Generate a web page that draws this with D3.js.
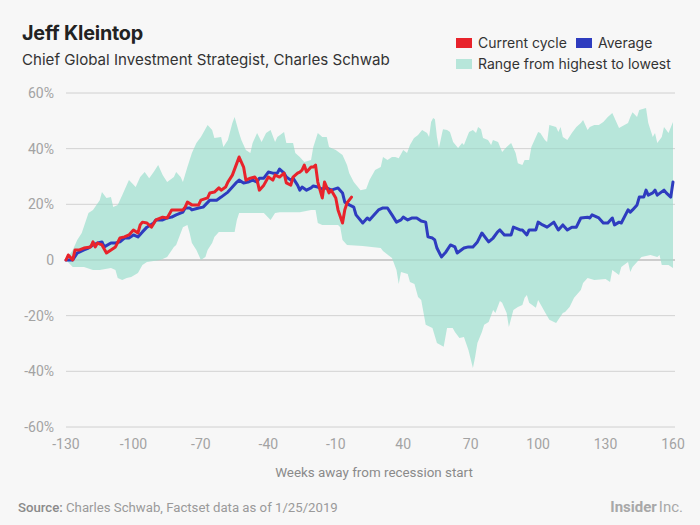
<!DOCTYPE html>
<html>
<head>
<meta charset="utf-8">
<script src="https://cdn.jsdelivr.net/npm/d3@7"></script>
<style>
  html, body { margin: 0; padding: 0; background: #f7f7f7; }
  svg { display: block; }
</style>
</head>
<body>
<svg id="chart" width="700" height="525"></svg>
<script>
// ---- Data (x = position along the axis, 0..270; tick every 30) ----
const xTickLabels = ["-130","-100","-70","-40","-10","40","70","100","130","160"];
const yTicks = [-60, -40, -20, 0, 20, 40, 60];

const avgX = [0,3,5,8,10,12,14,16,17,20,22,24,26,28,30,32,34,36,39,40,43,45,47,49,52,53,55,56,59,61,64,67,69,72,74,76,77,79,81,83,85,86,88,90,92,94,95,97,98,100,101,103,104,105,107,109,110,112,114,116,118,121,123,124,126,128,129,132,134,135,137,139,141,143,145,147,149,150,152,154,156,158,160,161,163,164,165,167,169,171,173,174,177,179,181,183,185,188,190,192,193,195,198,199,202,203,205,206,209,210,212,214,217,219,221,223,225,227,229,232,233,234,237,239,241,243,244,246,247,250,251,252,254,255,257,258,259,261,262,263,266,267,269,270];
const avgY = [0,0,2.5,3.6,4.3,5.4,6.1,6.5,4.7,6.1,6.1,6.5,7.9,7.9,9.0,8.3,10.1,11.8,13.3,14.4,14.4,15.1,15.4,16.2,17.2,18.7,18.7,18.0,18.7,19.0,21.5,21.5,22.6,24.4,26.2,28.0,28.7,27.7,28.0,28.7,28.0,29.4,29.4,31.6,31.2,31.2,32.7,31.2,29.8,28.7,29.4,26.9,25.1,26.2,25.1,25.9,26.6,26.2,25.5,25.9,25.1,25.9,24.1,20.8,19.8,19.0,16.2,13.3,15.1,14.4,16.2,18.0,18.7,18.7,16.2,13.6,14.4,15.4,14.4,15.1,15.1,14.0,13.6,8.3,7.9,7.2,4.3,1.1,2.9,5.4,4.7,2.5,4.3,4.7,4.7,6.5,9.7,6.5,7.9,10.1,10.8,9.0,9.0,11.8,10.8,10.8,9.0,10.8,10.8,13.6,12.6,11.8,13.6,10.8,12.6,10.8,11.8,11.8,15.1,15.4,15.1,16.2,15.1,13.3,13.3,15.1,12.6,13.6,13.3,18.0,17.2,18.0,19.8,22.6,22.6,25.1,23.3,24.1,25.1,23.3,25.1,24.1,22.6,28.0];

const curX = [0,1,3,4,6,8,11,12,13,14,16,18,20,22,24,26,28,30,32,33,34,36,38,40,43,45,47,49,52,53,54,56,59,60,63,64,66,68,69,71,72,74,76,77,79,80,82,84,85,86,88,90,92,93,95,97,98,100,101,103,104,105,106,107,109,110,111,112,114,115,117,118,120,121,123,124,125,127];
const curY = [0,1.8,0,3.6,3.6,4.3,4.7,6.5,4.7,6.1,5.4,2.5,3.6,4.7,7.9,8.3,9.0,10.8,9.7,12.6,13.6,13.3,11.8,14.4,15.4,15.1,18.0,18.0,18.0,19.0,20.8,19.8,19.8,21.5,22.3,24.1,24.4,25.9,25.1,26.2,28.0,30.5,34.8,37.0,33.4,28.7,29.4,29.8,28.7,25.1,26.9,29.8,28.7,30.5,29.8,31.2,27.7,26.9,29.8,31.2,31.6,32.3,34.1,31.6,33.4,33.4,34.1,28.0,22.3,28.0,24.1,25.1,22.3,18.0,13.3,18.0,20.5,22.6];

const highX = [0,3,5,7,10,12,15,16,18,20,21,23,25,28,31,33,35,37,39,41,43,45,48,49,51,52,54,56,58,60,63,65,66,69,70,72,74,75,77,78,80,82,83,85,87,89,91,93,94,97,98,101,102,104,106,109,110,112,114,116,117,120,123,125,126,128,131,133.5,135,137.5,140,141,143,145,146.5,148,150,151.7,153,154.8,156.6,158.4,160.6,161.5,162.4,163.3,164.1,165,165.9,167.3,167.7,169.5,170.8,172.2,174.4,176.2,177,178.4,179.3,181,182.4,183.3,184.6,185.5,187.7,189.1,189.9,192.2,194,196,198,200,201,203,204,206,207,210,211,213,214,215,218,219,220,221,223,225,227,229,230,232,233,235,237,239,241,243,245,246,250,251,252,254,255,258,259,261,262,263,265,266,268,270];
const highY = [0,3.6,7.2,9.7,16.9,18.0,21.5,24.4,22.3,22.6,19.0,19.8,23.3,28.7,26.2,29.8,31.6,29.4,31.6,34.1,30.5,28.0,29.8,31.6,29.8,28.0,33.4,38.4,42.0,44.2,48.5,46.7,43.8,44.2,40.6,43.1,49.2,51.4,45.6,43.1,39.5,38.4,42.0,45.6,42.4,45.6,46.7,42.4,44.2,46.0,42.0,42.0,38.4,37.0,35.2,35.9,40.6,45.6,44.2,44.2,40.6,39.5,37.7,34.1,31.2,28.0,25.1,25.5,28.7,32.3,33.4,37.0,35.9,37.0,37.0,36.6,39.5,38.4,41.3,43.8,44.9,46.7,45.6,44.2,49.6,51.0,50.6,44.2,40.2,45.6,47.0,46.7,46.0,42.4,40.2,42.0,41.3,44.2,46.0,46.7,45.6,47.8,47.0,43.8,43.1,41.3,43.1,42.4,38.8,40.6,42.0,38.4,34.8,34.1,35.9,35.9,40.6,46.0,45.6,43.1,42.4,48.5,47.8,46.0,47.8,44.2,43.1,45.6,47.8,49.2,50.3,46.7,47.8,48.5,48.5,49.6,51.4,52.8,49.2,47.4,49.2,51.4,53.1,51.4,53.9,54.6,49.2,44.2,45.6,42.0,44.2,47.8,45.6,49.6];

const lowX = [0,3,8,12,15,20,22,23,25,27,29,32,34,36,42,45,48,49,52,54,55,56,58,60,62,63,65,66,68,75,76,77,85,88,91,93,95,104,109,111,112,114,121,122,123,125,132,140,141,145,147,148,149,152,153,155,156.6,158,160,163,165,168,169.5,172,173,175,177,179,181,182,183,185,186,188,190,191,192,193,194,196,197,199,201,203,204,205,206,209,210,213,215,218,221,222,224,226,229,230,232,235,240,242,243,246,247,250,251,252,254,256,260,263,264,265,268,270];
const lowY = [0,-2.5,-2.5,-3.6,-3.6,-2.9,-3.6,-6.5,-7.2,-6.5,-6.1,-4.7,-1.8,-0.7,0,1.1,4.7,5.4,11.8,12.6,9.7,6.1,3.6,0,1.1,3.6,6.1,8.3,10.1,10.1,14.4,16.9,16.9,16.9,14.4,16.9,17.2,17.2,18.0,18.0,13.3,12.6,12.6,11.8,7.2,5.4,5.0,4.3,3.2,0.7,-3.6,-8.6,-4.3,-5.0,-7.9,-8.6,-13.3,-14.4,-23.3,-24.4,-29.8,-31.2,-24.4,-24.4,-25.9,-28.0,-27.7,-32.3,-38.8,-34.8,-29.8,-25.9,-23.3,-22.3,-18.0,-19.0,-16.9,-14.7,-15.4,-19.0,-24.1,-18.0,-16.9,-16.2,-13.6,-12.6,-15.4,-17.2,-14.4,-18.7,-21.5,-22.6,-19.0,-18.7,-16.9,-13.6,-10.8,-8.3,-6.5,-7.2,-6.8,-7.9,-3.6,-5.4,-2.5,-0.7,-4.3,-2.5,-0.7,1.1,1.8,1.1,1.8,-1.8,-1.8,-2.9];

// ---- Layout ----
const svg = d3.select("#chart");
const W = 700, H = 525;
const plot = { left: 66, right: 673, top: 93, bottom: 427 };

const x = d3.scaleLinear().domain([0, 270]).range([plot.left, plot.right]);
const y = d3.scaleLinear().domain([-60, 60]).range([plot.bottom, plot.top]);

const colRed = "#e8232b", colBlue = "#2e3cbf", colBand = "#b7e6da";

svg.append("rect").attr("width", W).attr("height", H).attr("fill", "#f7f7f7");

// Titles
svg.append("text").attr("x", 22).attr("y", 40)
  .attr("font-family", "Inter, 'Noto Sans', sans-serif").attr("font-weight", 700)
  .attr("font-size", 19.8).attr("fill", "#222").attr("letter-spacing", "-0.2")
  .text("Jeff Kleintop");
svg.append("text").attr("x", 22).attr("y", 65)
  .attr("font-family", "Inter, 'Noto Sans', sans-serif").attr("font-weight", 400)
  .attr("font-size", 15.1).attr("fill", "#333")
  .text("Chief Global Investment Strategist, Charles Schwab");

// Legend
const legend = [
  { label: "Current cycle", color: colRed, x: 456, y: 38 },
  { label: "Average", color: colBlue, x: 576, y: 38 },
  { label: "Range from highest to lowest", color: colBand, x: 456, y: 59 }
];
const lg = svg.append("g").attr("font-family", "Inter, 'Noto Sans', sans-serif").attr("font-size", 14);
legend.forEach(d => {
  lg.append("rect").attr("x", d.x).attr("y", d.y).attr("width", 16).attr("height", 10).attr("fill", d.color);
  lg.append("text").attr("x", d.x + 22).attr("y", d.y + 10).attr("fill", "#333").text(d.label);
});

// Gridlines (below band)
const grid = svg.append("g");
yTicks.forEach(t => {
  grid.append("line").attr("x1", plot.left).attr("x2", plot.right + 2)
    .attr("y1", y(t)).attr("y2", y(t))
    .attr("stroke", t === 0 ? "#cfcfcf" : "#e2e2e2").attr("stroke-width", t === 0 ? 1.5 : 1);
});

// Band
const high = highX.map((v, i) => [v, highY[i]]);
const low = lowX.map((v, i) => [v, lowY[i]]);
const bandPts = high.concat(low.slice().reverse());
svg.append("path")
  .attr("d", d3.line().x(d => x(d[0])).y(d => y(d[1]))(bandPts) + "Z")
  .attr("fill", colBand);

// Gridlines over band (subtle)
yTicks.forEach(t => {
  svg.append("line").attr("x1", plot.left).attr("x2", plot.right + 2)
    .attr("y1", y(t)).attr("y2", y(t))
    .attr("stroke", "rgba(0,0,0,0.07)").attr("stroke-width", t === 0 ? 1.5 : 1);
});

// Lines
const line = d3.line().x(d => x(d[0])).y(d => y(d[1]));
svg.append("path").datum(avgX.map((v, i) => [v, avgY[i]]))
  .attr("d", line).attr("fill", "none").attr("stroke", colBlue)
  .attr("stroke-width", 3).attr("stroke-linejoin", "round").attr("stroke-linecap", "round");
svg.append("path").datum(curX.map((v, i) => [v, curY[i]]))
  .attr("d", line).attr("fill", "none").attr("stroke", colRed)
  .attr("stroke-width", 3).attr("stroke-linejoin", "round").attr("stroke-linecap", "round");

// Y axis labels
const yAxis = svg.append("g").attr("font-family", "Roboto, sans-serif").attr("font-size", 14).attr("fill", "#a3a3a3");
yTicks.forEach(t => {
  yAxis.append("text").attr("x", 54).attr("y", y(t)).attr("dy", "0.35em")
    .attr("text-anchor", "end").text(t === 0 ? "0" : t + "%");
});

// X axis labels
const xAxis = svg.append("g").attr("font-family", "Roboto, sans-serif").attr("font-size", 14).attr("fill", "#a3a3a3");
xTickLabels.forEach((lab, i) => {
  xAxis.append("text").attr("x", x(i * 30)).attr("y", 444).attr("dy", "0.35em")
    .attr("text-anchor", "middle").text(lab);
});

svg.append("text").attr("x", 374).attr("y", 472).attr("dy", "0.35em")
  .attr("text-anchor", "middle").attr("font-family", "Roboto, sans-serif")
  .attr("font-size", 13.4).attr("fill", "#8a8a8a").text("Weeks away from recession start");

// Footer
const src = svg.append("text").attr("x", 18).attr("y", 507).attr("dy", "0.35em")
  .attr("font-family", "Roboto, sans-serif").attr("font-size", 13.2).attr("fill", "#9a9a9a");
src.append("tspan").attr("font-weight", 500).attr("fill", "#8a8a8a").text("Source:");
src.append("tspan").text(" Charles Schwab, Factset data as of 1/25/2019");

const brand = svg.append("text").attr("x", 683).attr("y", 507).attr("dy", "0.35em")
  .attr("text-anchor", "end").attr("font-family", "Roboto, sans-serif").attr("font-size", 15).attr("fill", "#a8a8a8");
brand.append("tspan").attr("font-weight", 700).text("Insider");
brand.append("tspan").attr("font-weight", 400).attr("dx", 2).text("Inc.");
</script>
</body>
</html>
